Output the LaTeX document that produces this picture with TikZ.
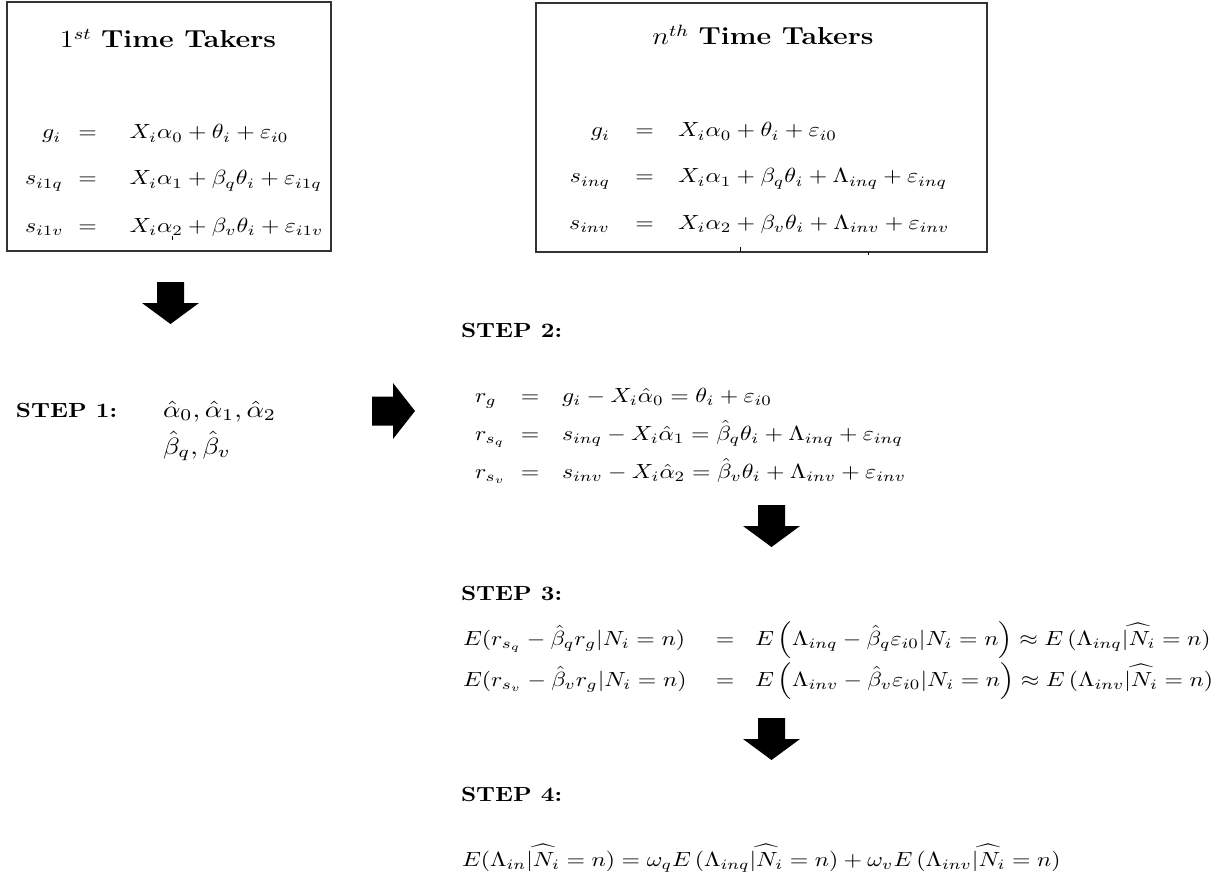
\documentclass[tikz,border=0pt]{standalone}
\usepackage{amsmath}
\usepackage{graphicx}
\newcommand\hstr[1]{\scalebox{1.16}[1]{#1}}
\newcommand\hstrbig[1]{\scalebox{1.33}[1.15]{#1}}
\begin{document}
\begin{tikzpicture}[x=0.4882pt,y=-0.4882pt,
  txt/.style={inner sep=0pt,outer sep=0pt},
  lhs/.style={txt,anchor=base east},
  lhsw/.style={txt,anchor=base west},
  rel/.style={txt,anchor=base},
  rhs/.style={txt,anchor=base west},
  ttl/.style={txt,anchor=base,font=\large},
  steplabel/.style={txt,anchor=base west,font=\bfseries},
  framebox/.style={draw=black!80,line width=0.6pt},
  blockarrow/.style={fill=black},
  tickmark/.style={draw=black,line width=0.4pt},
  downblk/.pic={\fill[blockarrow] (-13.5,0) -- (13.5,0) -- (13.5,21) -- (28.5,21) -- (0,42) -- (-28.5,21) -- (-13.5,21) -- cycle;},
  rightblk/.pic={\fill[blockarrow] (0,-14.5) -- (21,-14.5) -- (21,-28) -- (43,0) -- (21,28) -- (21,14.5) -- (0,14.5) -- cycle;},
]
\useasboundingbox (0,0) rectangle (1229,892);

% ---------- Box 1 ----------
\draw[framebox] (7,2) rectangle (331,251);
\node[ttl] (t1) at (168,48) {\hstr{$1^{st}$ \textbf{Time Takers}}};
\node[lhsw] (a1l) at (42,139) {\hstr{$g_i$}};
\node[rel]  (a1e) at (87.5,139) {\hstr{$=$}};
\node[rhs]  (a1r) at (129.5,139) {\hstr{$X_i\alpha_0+\theta_i+\varepsilon_{i0}$}};
\node[lhsw] (a2l) at (25,185) {\hstr{$s_{i1q}$}};
\node[rel]  (a2e) at (87.5,185) {\hstr{$=$}};
\node[rhs]  (a2r) at (129.5,185) {\hstr{$X_i\alpha_1+\beta_q\theta_i+\varepsilon_{i1q}$}};
\node[lhsw] (a3l) at (25,232) {\hstr{$s_{i1v}$}};
\node[rel]  (a3e) at (87.5,232) {\hstr{$=$}};
\node[rhs]  (a3r) at (129.5,232) {\hstr{$X_i\alpha_2+\beta_v\theta_i+\varepsilon_{i1v}$}};
\draw[tickmark] (172,236) -- (172,240);

% ---------- Box 2 ----------
\draw[framebox] (536,3) rectangle (987,252);
\node[ttl] (t2) at (763,45) {\hstr{$n^{th}$ \textbf{Time Takers}}};
\node[lhs] (b1l) at (610,137) {\hstr{$g_i$}};
\node[rel] (b1e) at (644.5,137) {\hstr{$=$}};
\node[rhs] (b1r) at (678,137) {\hstr{$X_i\alpha_0+\theta_i+\varepsilon_{i0}$}};
\node[lhs] (b2l) at (610,183) {\hstr{$s_{inq}$}};
\node[rel] (b2e) at (644.5,183) {\hstr{$=$}};
\node[rhs] (b2r) at (678,183) {\hstr{$X_i\alpha_1+\beta_q\theta_i+\Lambda_{inq}+\varepsilon_{inq}$}};
\node[lhs] (b3l) at (610,229) {\hstr{$s_{inv}$}};
\node[rel] (b3e) at (644.5,229) {\hstr{$=$}};
\node[rhs] (b3r) at (678,229) {\hstr{$X_i\alpha_2+\beta_v\theta_i+\Lambda_{inv}+\varepsilon_{inv}$}};
\draw[tickmark] (740,247) -- (740,252);
\draw[tickmark] (868,252) -- (868,255);

% ---------- Step 1 ----------
\pic at (170.5,282) {downblk};
\node[steplabel] (s1) at (16,417) {\hstr{STEP 1:}};
\node[rhs] (s1a) at (163,417) {\hstrbig{$\hat{\alpha}_0,\hat{\alpha}_1,\hat{\alpha}_2$}};
\node[rhs] (s1b) at (163,454) {\hstrbig{$\hat{\beta}_q,\hat{\beta}_v$}};
\pic at (372,411) {rightblk};

% ---------- Step 2 ----------
\node[steplabel] (s2) at (461,337) {\hstr{STEP 2:}};
\node[lhsw] (c1l) at (475,402) {\hstr{$r_g$}};
\node[rel]  (c1e) at (530,402) {\hstr{$=$}};
\node[rhs]  (c1r) at (562,402) {\hstr{$g_i-X_i\hat{\alpha}_0=\theta_i+\varepsilon_{i0}$}};
\node[lhsw] (c2l) at (475,440) {\hstr{$r_{s_q}$}};
\node[rel]  (c2e) at (530,440) {\hstr{$=$}};
\node[rhs]  (c2r) at (562,440) {\hstr{$s_{inq}-X_i\hat{\alpha}_1=\hat{\beta}_q\theta_i+\Lambda_{inq}+\varepsilon_{inq}$}};
\node[lhsw] (c3l) at (475,478) {\hstr{$r_{s_v}$}};
\node[rel]  (c3e) at (530,478) {\hstr{$=$}};
\node[rhs]  (c3r) at (562,478) {\hstr{$s_{inv}-X_i\hat{\alpha}_2=\hat{\beta}_v\theta_i+\Lambda_{inv}+\varepsilon_{inv}$}};
\pic at (771.5,505) {downblk};

% ---------- Step 3 ----------
\node[steplabel] (s3) at (461,600) {\hstr{STEP 3:}};
\node[lhsw] (d1l) at (463,645) {\hstr{$E(r_{s_q}-\hat{\beta}_q r_g|N_i=n)$}};
\node[rel]  (d1e) at (725,645) {\hstr{$=$}};
\node[rhs]  (d1r) at (755,645) {\hstr{$E\left(\Lambda_{inq}-\hat{\beta}_q\varepsilon_{i0}|N_i=n\right)\approx E\,(\Lambda_{inq}\widehat{|N_i}=n)$}};
\node[lhsw] (d2l) at (463,686) {\hstr{$E(r_{s_v}-\hat{\beta}_v r_g|N_i=n)$}};
\node[rel]  (d2e) at (725,686) {\hstr{$=$}};
\node[rhs]  (d2r) at (755,686) {\hstr{$E\left(\Lambda_{inv}-\hat{\beta}_v\varepsilon_{i0}|N_i=n\right)\approx E\,(\Lambda_{inv}\widehat{|N_i}=n)$}};
\pic at (771.5,718) {downblk};

% ---------- Step 4 ----------
\node[steplabel] (s4) at (461,801) {\hstr{STEP 4:}};
\node[lhsw] (e1) at (462,866) {\hstr{$E(\Lambda_{in}\widehat{|N_i}=n)=\omega_q E\,(\Lambda_{inq}\widehat{|N_i}=n)+\omega_v E\,(\Lambda_{inv}\widehat{|N_i}=n)$}};
\end{tikzpicture}
\end{document}
